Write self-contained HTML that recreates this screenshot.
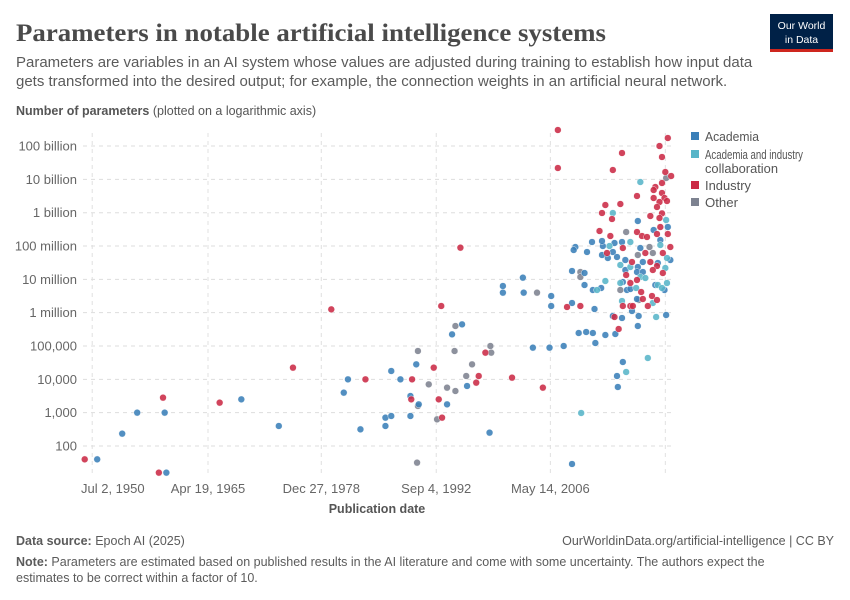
<!DOCTYPE html>
<html><head><meta charset="utf-8"><style>
body{margin:0;background:#fff;font-family:"Liberation Sans",sans-serif;}
#wrap{position:relative;width:850px;height:600px;overflow:hidden;}
</style></head><body>
<div id="wrap">
<svg id="chart" width="850" height="600" xmlns="http://www.w3.org/2000/svg">
<text x="16" y="41" font-family="Liberation Serif,serif" font-size="25" font-weight="bold" fill="#4a4a4a" textLength="590" lengthAdjust="spacingAndGlyphs">Parameters in notable artificial intelligence systems</text>
<g>
<rect x="770" y="14" width="63" height="36" fill="#002147"/>
<rect x="770" y="49" width="63" height="3" fill="#ce261e"/>
<text x="801.5" y="29" font-size="10.5" fill="#fff" text-anchor="middle">Our World</text>
<text x="801.5" y="43" font-size="10.5" fill="#fff" text-anchor="middle">in Data</text>
</g>
<text x="16" y="67" font-size="15" fill="#5b5b5b">Parameters are variables in an AI system whose values are adjusted during training to establish how input data</text>
<text x="16" y="86" font-size="15" fill="#5b5b5b">gets transformed into the desired output; for example, the connection weights in an artificial neural network.</text>
<text x="16" y="115" font-size="12.5" fill="#555"><tspan font-weight="bold">Number of parameters</tspan> (plotted on a logarithmic axis)</text>
<g id="grid"></g>
<g id="points"></g>
<g id="axes"></g>
<text x="377" y="513" font-size="12.5" font-weight="bold" fill="#555" text-anchor="middle">Publication date</text>
<g>
<g><rect x="691" y="132" width="8" height="8" fill="#3a7fb8"/><text x="705" y="141" font-size="12.5" fill="#555" textLength="54" lengthAdjust="spacingAndGlyphs">Academia</text></g>
<g><rect x="691" y="150" width="8" height="8" fill="#58b5c8"/><text x="705" y="159" font-size="12.5" fill="#555" textLength="98" lengthAdjust="spacingAndGlyphs">Academia and industry</text><text x="705" y="173" font-size="12.5" fill="#555" textLength="73" lengthAdjust="spacingAndGlyphs">collaboration</text></g>
<g><rect x="691" y="181" width="8" height="8" fill="#cb2a45"/><text x="705" y="190" font-size="12.5" fill="#555" textLength="46" lengthAdjust="spacingAndGlyphs">Industry</text></g>
<g><rect x="691" y="198" width="8" height="8" fill="#7d8290"/><text x="705" y="207" font-size="12.5" fill="#555" textLength="33" lengthAdjust="spacingAndGlyphs">Other</text></g>
</g>
<text x="16" y="545" font-size="12.5" fill="#5b5b5b"><tspan font-weight="bold">Data source:</tspan> Epoch AI (2025)</text>
<text x="834" y="545" font-size="12.5" fill="#5b5b5b" text-anchor="end">OurWorldinData.org/artificial-intelligence | CC BY</text>
<text x="16" y="566" font-size="12.5" fill="#5b5b5b"><tspan font-weight="bold">Note:</tspan> Parameters are estimated based on published results in the AI literature and come with some uncertainty. The authors expect the</text>
<text x="16" y="582" font-size="12.5" fill="#5b5b5b">estimates to be correct within a factor of 10.</text>
</svg>
</div>
<script>
const yTickValues = [2,3,4,5,6,7,8,9,10,11];
const yTickLabels = ["100","1,000","10,000","100,000","1 million","10 million","100 million","1 billion","10 billion","100 billion"];
const xTickYears = [1951.4,1965.3,1978.9,1992.7,2006.4,2020.2];
const xTickLabels = ["Jul 2, 1950","Apr 19, 1965","Dec 27, 1978","Sep 4, 1992","May 14, 2006",""];

const academiaYears = [1952,1955,1956.8,1960.3,1960.1,1969.3,1973.8,1981.6,1982.1,1983.6,1986.6,1986.6,1987.3,1987.3,1988.4,1989.6,1989.6,1990.3,1990.6,1994.0,1994.6,1995.8,1996.4,1999.1,2000.7,2000.7,2003.1,2003.2,2004.3,2006.3,2006.5,2006.5,
2009.4,2009.2,2011.4,2012.7,2014.1,2015.0,2017.2,2010.8,2012.6,2013.9,2017.5,2019.3,2013.3,2014.4,2015.4,2016.9,2009.0,2010.5,2015.4,2016.8,2017.5,2010.5,2015.1,2019.0,2011.5,2012.5,2015.6,2016.0,2016.8,2009.0,2016.2,2011.7,2013.9,2015.0,2017.0,2020.3,2016.9,2009.8,2010.7,2011.5,2013.0,2014.2,2011.8,2008.0,2015.1,2014.4,2014.5,2009.0,2016.9,2020.5,2018.8,2012.6,2019.6,2020.8,2020.1];
const academiaLog = [1.6,2.37,3.0,1.2,3.0,3.4,2.6,3.6,4.0,2.5,2.85,2.6,2.9,4.25,4.0,3.5,2.9,4.45,3.25,3.25,5.35,5.65,3.8,2.4,6.8,6.6,7.05,6.6,4.95,4.95,6.5,6.2,
7.97,7.88,8.12,8.0,8.09,8.12,7.94,7.82,7.73,7.82,7.52,7.49,7.64,7.67,7.58,7.37,7.25,7.19,7.28,7.22,7.22,6.83,6.92,6.83,6.68,6.74,6.68,6.71,6.41,6.29,6.05,6.11,5.9,5.84,5.9,5.93,5.6,5.39,5.42,5.39,5.33,5.36,5.09,5.0,4.52,4.1,3.77,1.46,8.75,8.57,8.48,8.15,8.18,7.58,6.68];

const collabYears = [2013.5,2016.0,2019.6,2020.4,2014.8,2016.0,2020.2,2017.2,2013.0,2014.8,2017.8,2019.3,2020.4,2012.0,2016.7,2019.8,2015.0,2018.7,2019.1,2018.1,2015.5,2010.1,2017.2,2013.9,2020.3];
const collabLog = [8.0,8.12,8.03,7.64,7.43,7.37,7.34,7.07,6.95,6.89,7.04,6.83,6.89,6.68,6.74,6.74,6.35,6.29,5.87,4.64,4.22,2.99,9.92,8.99,8.78];

const industryYears = [1950.5,1959.4,1959.9,1966.7,1975.5,1980.1,1984.2,1989.8,1989.7,1992.4,1993.0,1993.4,1993.3,1995.6,1997.5,1997.8,1998.6,2001.8,2005.5,2007.3,2007.3,2010.0,
2020.5,2019.5,2015.0,2019.8,2013.9,2020.2,2020.9,2019.8,2019.0,2018.8,2019.8,2016.8,2018.8,2020.1,2020.4,2019.5,2013.0,2014.8,2019.2,2012.6,2019.8,2013.8,2018.4,2019.5,2016.8,2013.6,2017.4,2019.6,2018.0,2019.2,2020.5,2020.8,2013.2,2015.1,2017.8,2019.9,2016.2,2018.4,2019.2,2018.7,2019.9,2015.5,2016.0,2016.8,2017.3,2017.5,2018.6,2019.2,2008.4,2015.1,2016.0,2016.3,2018.1,2014.1,2014.6,2012.3];
const industryLog = [1.6,1.2,3.45,3.3,4.35,6.1,4.0,4.0,3.4,4.35,3.4,2.85,6.2,7.95,3.9,4.1,4.8,4.05,3.75,11.48,10.34,6.2,
11.24,11.0,10.79,10.67,10.28,10.22,10.1,9.89,9.77,9.68,9.59,9.5,9.44,9.44,9.35,9.32,9.23,9.26,9.17,8.99,8.98,8.81,8.9,8.84,8.42,8.3,8.3,8.57,8.27,8.36,8.36,7.97,7.79,7.94,7.79,7.79,7.52,7.52,7.4,7.28,7.19,7.13,6.89,6.98,6.62,6.41,6.5,6.38,6.17,6.2,6.2,6.2,6.2,5.87,5.51,8.45];

const otherYears = [1990.4,1990.5,1990.5,1991.8,1992.8,1994.0,1994.9,1995.0,1995.0,1996.3,1997.0,1999.2,1999.3,2004.8,2020.3,2015.5,2018.3,2016.9,2018.7,2010.0,2010.0,2014.8,2017.0];
const otherLog = [1.5,3.2,4.85,3.85,2.8,3.75,4.85,5.6,3.65,4.1,4.45,5.0,4.8,6.6,10.04,8.42,7.97,7.73,7.79,7.22,7.07,6.68,6.38];

const NS = "http://www.w3.org/2000/svg";
function xScale(yr){ return 208 + (yr - 1965.3) * 8.33; }
function yScale(lg){ return 446 - (lg - 2) * 33.33; }

const grid = document.getElementById('grid');
const axes = document.getElementById('axes');
yTickValues.forEach((v,i)=>{
  const l = document.createElementNS(NS,'line');
  l.setAttribute('x1',83); l.setAttribute('x2',672);
  l.setAttribute('y1',yScale(v)); l.setAttribute('y2',yScale(v));
  l.setAttribute('stroke','#dddddd'); l.setAttribute('stroke-dasharray','4,4');
  
  
  grid.appendChild(l);
  const t = document.createElementNS(NS,'text');
  t.setAttribute('x',77); t.setAttribute('y',yScale(v)+4.5);
  t.setAttribute('text-anchor','end'); t.setAttribute('font-size','13'); t.setAttribute('fill','#666');
  t.textContent = yTickLabels[i];
  
  
  axes.appendChild(t);
});
xTickYears.forEach((v,i)=>{
  const x = xScale(v);
  const l = document.createElementNS(NS,'line');
  l.setAttribute('x1',x); l.setAttribute('x2',x);
  l.setAttribute('y1',133); l.setAttribute('y2',475);
  l.setAttribute('stroke','#e0e0e0'); l.setAttribute('stroke-dasharray','4,4');
  
  
  grid.appendChild(l);
  if (xTickLabels[i]) {
    const t = document.createElementNS(NS,'text');
    t.setAttribute('x', i===0 ? 81 : x); t.setAttribute('y',493);
    t.setAttribute('text-anchor', i===0 ? 'start' : 'middle');
    t.setAttribute('font-size','13'); t.setAttribute('fill','#666');
    t.textContent = xTickLabels[i];
    
    
    axes.appendChild(t);
  }
});

const pts = document.getElementById('points');
function drawSeries(years, logs, color, name){
  years.forEach((yr,i)=>{
    const c = document.createElementNS(NS,'circle');
    c.setAttribute('cx',xScale(yr)); c.setAttribute('cy',yScale(logs[i]));
    c.setAttribute('r',3.4); c.setAttribute('fill',color); c.setAttribute('fill-opacity','0.88');
    c.setAttribute('stroke','#fff'); c.setAttribute('stroke-width','0.4');
    
    
    pts.appendChild(c);
  });
}
drawSeries(otherYears, otherLog, '#7d8290', 'point-other');
drawSeries(academiaYears, academiaLog, '#3a7fb8', 'point-academia');
drawSeries(collabYears, collabLog, '#58b5c8', 'point-collaboration');
drawSeries(industryYears, industryLog, '#cb2a45', 'point-industry');
</script>
</body></html>
